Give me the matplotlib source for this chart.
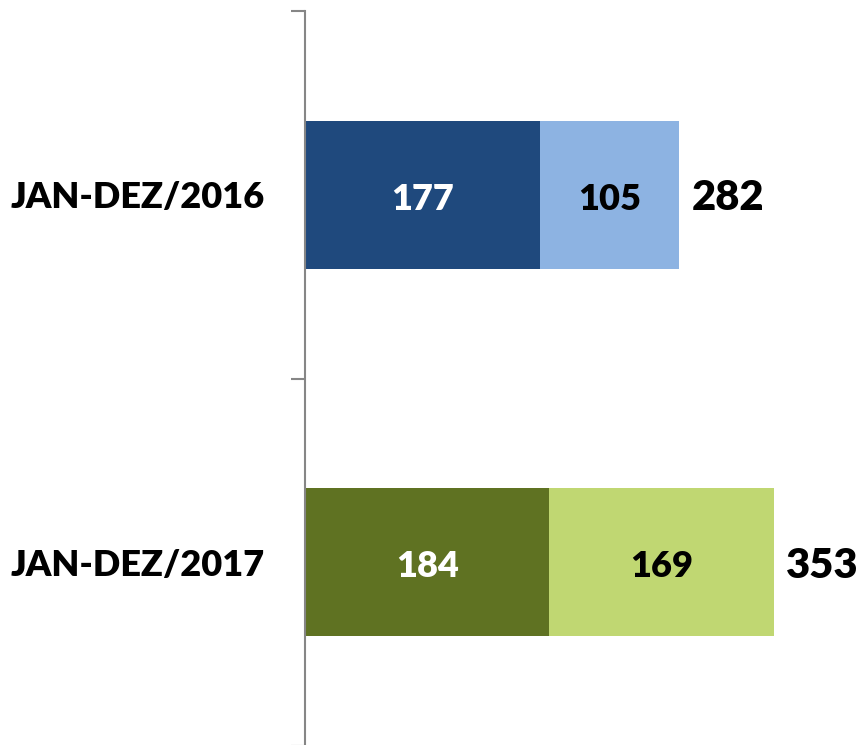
import matplotlib
matplotlib.use("Agg")
import matplotlib.pyplot as plt
from matplotlib.ticker import FixedLocator

categories = ["JAN-DEZ/2016", "JAN-DEZ/2017"]
part1 = [177, 184]
part2 = [105, 169]
totals = [282, 353]

dark_colors = ["#1F497D", "#5F7222"]
light_colors = ["#8DB3E2", "#C0D772"]

plt.rcParams['font.family'] = ['Lato', 'DejaVu Sans']
WEIGHT = 'heavy'

fig = plt.figure(figsize=(8.6, 7.45), dpi=100)
W, H = 860, 745
xmax = 400
px_per_unit = 1.328
ax = fig.add_axes([305 / W, -1 / H, xmax * px_per_unit / W, 735 / H])

y = list(range(len(categories)))
bh = 0.403
ax.barh(y, part1, height=bh, color=dark_colors, edgecolor='none')
ax.barh(y, part2, left=part1, height=bh, color=light_colors, edgecolor='none')

for i in y:
    ax.text(part1[i] / 2, i + 0.012, str(part1[i]), ha='center', va='center',
            color='white', fontsize=26, fontweight=WEIGHT)
    ax.text(part1[i] + part2[i] / 2, i + 0.012, str(part2[i]), ha='center', va='center',
            color='black', fontsize=26, fontweight=WEIGHT)
    ax.text(totals[i] + 9.5, i + 0.01, str(totals[i]), ha='left', va='center',
            color='black', fontsize=30, fontweight=WEIGHT)

ax.set_xlim(0, xmax)
ax.set_ylim(1.5, -0.5)
ax.set_yticks(y)
ax.set_yticklabels(categories, fontsize=26, fontweight=WEIGHT)
ax.yaxis.set_minor_locator(FixedLocator([-0.5, 0.5, 1.5]))
ax.tick_params(axis='y', which='major', length=0, pad=29)
ax.tick_params(axis='y', which='minor', length=10, width=1.5, color='#868686')
ax.set_xticks([])
for s in ['top', 'right', 'bottom']:
    ax.spines[s].set_visible(False)
ax.spines['left'].set_color('#868686')
ax.spines['left'].set_linewidth(1.5)

fig.savefig("out.png", dpi=100)
